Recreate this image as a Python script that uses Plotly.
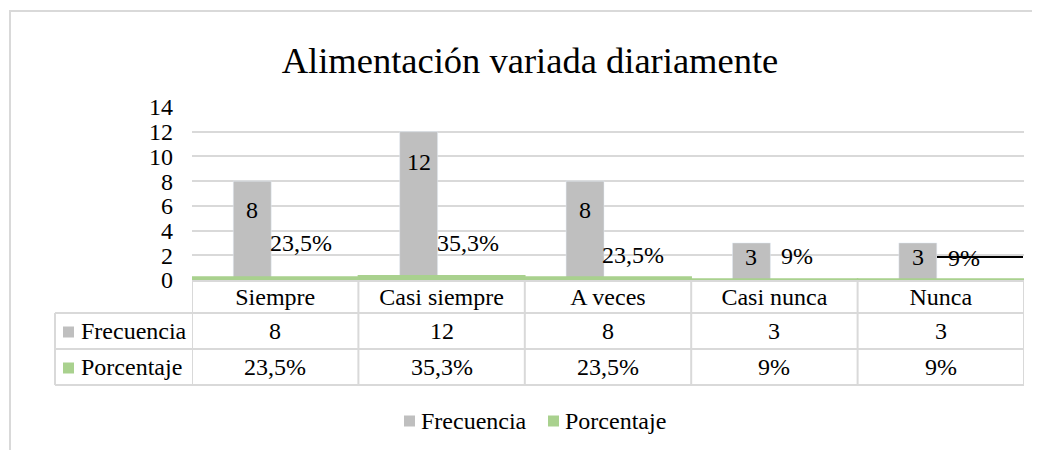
import plotly.graph_objects as go

# datos
categorias = ["Siempre", "Casi siempre", "A veces", "Casi nunca", "Nunca"]
frecuencia = [8, 12, 8, 3, 3]
porcentaje = [23.5, 35.3, 23.5, 9, 9]  # en %
ticks_y = [0, 2, 4, 6, 8, 10, 12, 14]

# posicion de las etiquetas (eje y, desplazamiento px)
etiqueta_frec_y = [5.66, 9.55, 5.66, 1.86, 1.86]
etiqueta_pct_y = [3, 3, 2, 1.95, 1.8]
etiqueta_pct_dx = [26, 26, 25, 23, 23]

FONT = "Liberation Serif, Times New Roman, DejaVu Serif, serif"
FS = 24
GRIS = "#bfbfbf"
VERDE = "#a9d18e"
LINEA = "#d9d9d9"

# la pagina tiene 8px de margen en el body
OFF = 8
W, H = 1040 - OFF, 450 - OFF
PX0, PX1, PY0, PY1 = 192, 1024, 107, 280  # area de trazado en pantalla
L, T = PX0 - OFF, PY0 - OFF
R, B = W - (PX1 - OFF), H - (PY1 - OFF)

BAR_W, BAR_OFF = 0.228, -0.252


def px_x(sx):
    return (sx - PX0) / (PX1 - PX0)


def px_y(sy):
    return (PY1 - sy) / (PY1 - PY0)


def fmt_pct(v):
    return f"{v:g}".replace(".", ",") + "%"


texto = dict(family=FONT, size=FS, color="black")

fig = go.Figure()

fig.add_trace(
    go.Bar(
        x=categorias,
        y=frecuencia,
        name="Frecuencia",
        marker=dict(color=GRIS),
        width=BAR_W,
        offset=BAR_OFF,
    )
)
fig.add_trace(
    go.Bar(
        x=categorias,
        y=[v / 100 for v in porcentaje],
        name="Porcentaje",
        marker=dict(color=VERDE, line=dict(color=VERDE, width=1.5)),
        width=1.0,
        offset=-0.5,
    )
)

# etiquetas de datos
for i, cat in enumerate(categorias):
    fig.add_annotation(
        x=i + BAR_OFF + BAR_W / 2, y=etiqueta_frec_y[i], xref="x", yref="y",
        text=str(frecuencia[i]), showarrow=False,
        xanchor="center", yanchor="middle", font=texto,
    )
    fig.add_annotation(
        x=cat, y=etiqueta_pct_y[i], xref="x", yref="y",
        text=fmt_pct(porcentaje[i]), showarrow=False,
        xshift=etiqueta_pct_dx[i], xanchor="center", yanchor="middle",
        font=texto,
    )

shapes = []
# tabla de datos: filas
fila_y = [281, 313, 349, 385]
for k, yy in enumerate(fila_y):
    shapes.append(dict(
        type="line", xref="paper", yref="paper",
        x0=px_x(55) if k > 0 else 0, x1=1,
        y0=px_y(yy), y1=px_y(yy),
        line=dict(color=LINEA, width=2), layer="below",
    ))
# columnas
for j in range(len(categorias) + 1):
    xx = j - 0.5
    shapes.append(dict(
        type="line", xref="x", yref="paper",
        x0=xx, x1=xx, y0=px_y(281), y1=px_y(385),
        line=dict(color=LINEA, width=2),
    ))
shapes.append(dict(
    type="line", xref="paper", yref="paper",
    x0=px_x(55), x1=px_x(55), y0=px_y(313), y1=px_y(385),
    line=dict(color=LINEA, width=2),
))
# linea negra junto a la etiqueta de Nunca
shapes.append(dict(
    type="line", xref="paper", yref="paper",
    x0=px_x(937), x1=px_x(1023), y0=px_y(257), y1=px_y(257),
    line=dict(color="black", width=2),
))
# marco del grafico
shapes.append(dict(
    type="rect", xref="paper", yref="paper",
    x0=px_x(10), x1=px_x(1052), y0=px_y(470), y1=px_y(11),
    line=dict(color=LINEA, width=2), fillcolor="rgba(0,0,0,0)",
))

series = [
    ("Frecuencia", GRIS, [str(v) for v in frecuencia]),
    ("Porcentaje", VERDE, [fmt_pct(v) for v in porcentaje]),
]

# valores de la tabla con su clave de color
for fila, (nombre, col, textos) in enumerate(series):
    yc = 331 + fila * 36
    shapes.append(dict(
        type="rect", xref="paper", yref="paper",
        x0=px_x(63), x1=px_x(74), y0=px_y(yc - 4.5), y1=px_y(yc + 6.5),
        fillcolor=col, line=dict(width=0),
    ))
    fig.add_annotation(
        x=px_x(79), y=px_y(yc), xref="paper", yref="paper",
        text=nombre, showarrow=False, xanchor="left", yanchor="middle",
        font=texto,
    )
    for i, cat in enumerate(categorias):
        fig.add_annotation(
            x=cat, y=px_y(yc), xref="x", yref="paper",
            text=textos[i], showarrow=False,
            xanchor="center", yanchor="middle", font=texto,
        )

# leyenda inferior
for (nombre, col, _), sx in zip(series, [404, 548]):
    shapes.append(dict(
        type="rect", xref="paper", yref="paper",
        x0=px_x(sx), x1=px_x(sx + 11), y0=px_y(426.5), y1=px_y(415.5),
        fillcolor=col, line=dict(width=0),
    ))
    fig.add_annotation(
        x=px_x(sx + 15), y=px_y(421), xref="paper", yref="paper",
        text=nombre, showarrow=False, xanchor="left", yanchor="middle",
        font=texto,
    )

fig.update_layout(
    width=W,
    height=H,
    margin=dict(l=L, r=R, t=T, b=B, pad=0),
    barmode="overlay",
    showlegend=False,
    plot_bgcolor="white",
    paper_bgcolor="white",
    font=texto,
    title=dict(
        text="Alimentación variada diariamente",
        x=(530 - OFF) / W, xanchor="center", xref="container",
        y=1 - (60 - OFF) / H, yanchor="middle", yref="container",
        font=dict(family=FONT, size=36.5, color="black"),
    ),
    shapes=shapes,
)
fig.update_xaxes(
    type="category",
    range=[-0.5, 4.5],
    showgrid=False,
    showline=False,
    zeroline=False,
    ticks="",
    tickfont=texto,
    ticklabelstandoff=0,
)
fig.update_yaxes(
    range=[0, 14],
    tickvals=ticks_y,
    showgrid=True,
    gridcolor=LINEA,
    gridwidth=2,
    zeroline=True,
    zerolinecolor=LINEA,
    zerolinewidth=2,
    showline=False,
    ticks="",
    tickfont=texto,
    ticklabelstandoff=18,
)

fig.write_html("out.html")
